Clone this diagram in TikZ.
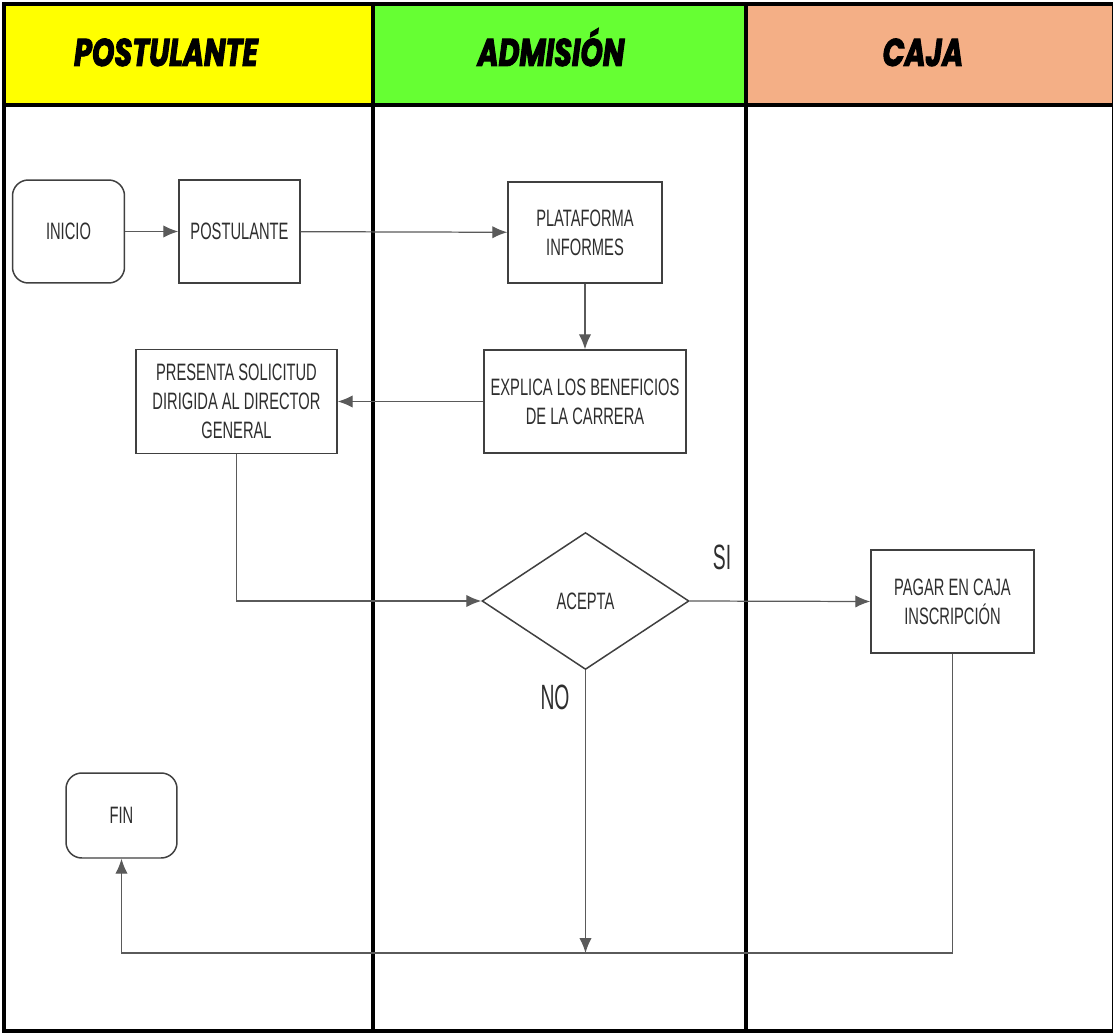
\documentclass[tikz,border=0pt]{standalone}
\usepackage{fontspec}
\usetikzlibrary{arrows.meta,shapes.geometric}

\newfontfamily\boxfont{Liberation Sans}[FakeStretch=0.62]
\newfontfamily\labelfont{Liberation Sans}[FakeStretch=0.55]
\newfontfamily\headfont{Poppins}[FakeStretch=0.74, FakeBold=2.5]

\definecolor{amarillo}{HTML}{FFFF00}
\definecolor{verde}{HTML}{66FF33}
\definecolor{salmon}{HTML}{F4AF86}
\definecolor{borde}{HTML}{404040}
\definecolor{linea}{HTML}{5A5A5A}
\definecolor{letra}{HTML}{2E2E2E}

\tikzset{
	carril/.style = {line width = 1.8pt},
	titulo/.style = {anchor = base, font = \headfont\bfseries\itshape\fontsize{22}{24}\selectfont},
	proceso/.style = {draw = borde, line width = 0.85pt, fill = white, align = center,
		text = letra, inner sep = 0pt, font = \boxfont\fontsize{13.5}{16.5}\selectfont},
	terminal/.style = {proceso, rounded corners = 9pt},
	decision/.style = {proceso, diamond, minimum width = 4.14cm, minimum height = 2.74cm},
	flujo/.style = {draw = linea, line width = 0.7pt},
	etiqueta/.style = {text = letra, font = \labelfont\fontsize{20}{22}\selectfont}
}

\begin{document}
\begin{tikzpicture}[x = 0.02cm, y = -0.02cm, > = {Latex[length = 8.5pt, width = 7pt]}]

	\useasboundingbox (0, 0) rectangle (1113, 1034);

	% Lanes
	
	\fill [amarillo] (4, 4) rectangle (373, 105);
	\fill [verde] (373, 4) rectangle (746, 105);
	\fill [salmon] (746, 4) rectangle (1113, 105);
	
	\draw [carril] (4, 4) rectangle (1114, 1031);
	\draw [carril] (4, 105) -- (1114, 105);
	\draw [carril] (373, 4) -- (373, 1031);
	\draw [carril] (746, 4) -- (746, 1031);
	
	\node [titulo] (hpostulante) at (166, 66) {POSTULANTE};
	\node [titulo] (hadmision) at (551, 66) {ADMISIÓN};
	\node [titulo] (hcaja) at (923, 66) {CAJA};

	% Steps
	
	\node [terminal, minimum width = 2.24cm, minimum height = 2.06cm] (inicio) at (68.5, 231.5) {INICIO};
	\node [proceso, minimum width = 2.42cm, minimum height = 2.06cm] (postulante) at (239.5, 231.5) {POSTULANTE};
	\node [proceso, minimum width = 3.08cm, minimum height = 2.02cm] (plataforma) at (585, 232.5) {PLATAFORMA\\INFORMES};
	\node [proceso, minimum width = 4.04cm, minimum height = 2.06cm] (explica) at (585, 401.5) {EXPLICA LOS BENEFICIOS\\DE LA CARRERA};
	\node [proceso, minimum width = 4.02cm, minimum height = 2.08cm] (presenta) at (236.5, 401.5) {PRESENTA SOLICITUD\\DIRIGIDA AL DIRECTOR\\GENERAL};
	\node [decision] (acepta) at (585.5, 601) {ACEPTA};
	\node [proceso, minimum width = 3.26cm, minimum height = 2.06cm] (pagar) at (952.5, 601.5) {PAGAR EN CAJA\\INSCRIPCIÓN};
	\node [terminal, minimum width = 2.22cm, minimum height = 1.70cm] (fin) at (121.5, 815.5) {FIN};
	
	\coordinate (retorno) at (0, 953);

	% Connectors
	
	\draw [flujo, ->] (inicio) -- (postulante);
	\draw [flujo, ->] (postulante) -- (plataforma);
	\draw [flujo, ->] (plataforma) -- (explica);
	\draw [flujo, ->] (explica) -- (presenta);
	\draw [flujo, ->] (presenta.south) |- (acepta.west);
	\draw [flujo, ->] (acepta.east) -- (pagar.west);
	\draw [flujo, ->] (acepta.south) -- (acepta.south |- retorno);
	\draw [flujo, ->] (pagar.south) |- (fin.south |- retorno) -- (fin.south);
	
	\node [etiqueta] (si) at (722, 557) {SI};
	\node [etiqueta] (no) at (555, 697) {NO};

\end{tikzpicture}
\end{document}
